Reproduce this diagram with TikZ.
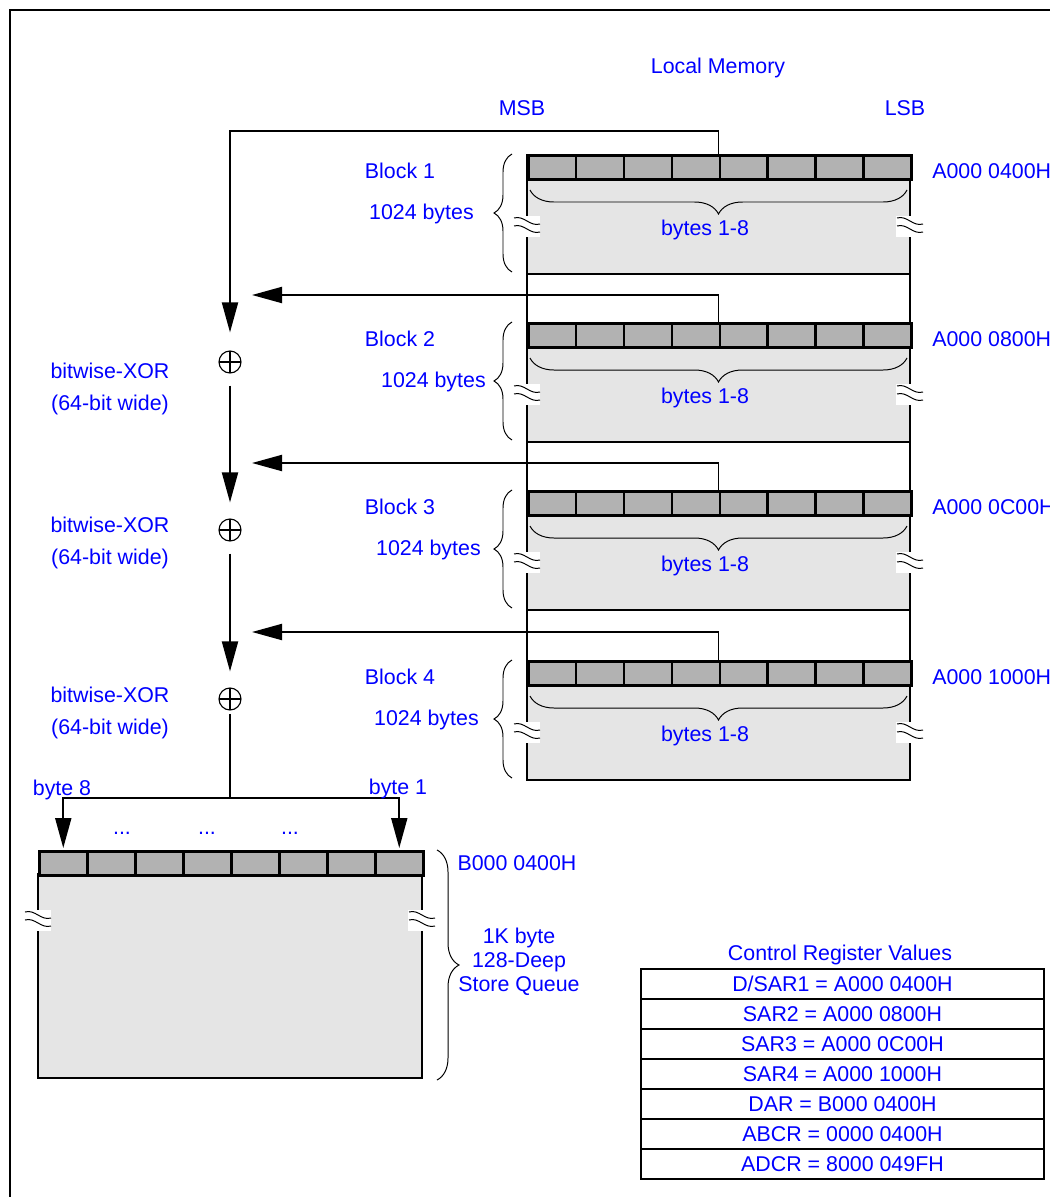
\documentclass[tikz,border=0pt]{standalone}
\usepackage{fontspec}
\setmainfont{Liberation Sans}
\usetikzlibrary{arrows.meta,positioning,calc,decorations.pathreplacing}
\definecolor{LabelBlue}{HTML}{0000FF}
\definecolor{CellGray}{HTML}{B2B2B2}
\definecolor{BodyGray}{HTML}{E5E5E5}
\tikzset{
  lbl/.style={text=LabelBlue, font=\fontsize{15.2}{17}\selectfont, inner sep=0pt},
  cell/.style={draw=black, fill=CellGray, line width=1.8pt, minimum width=1.197cm, minimum height=0.6cm, inner sep=0pt, anchor=north west},
  body/.style={draw=black, fill=BodyGray, line width=1.8pt},
  xor/.style={circle, draw, line width=0.8pt, minimum size=0.55cm, inner sep=0pt,
    path picture={\draw[line width=0.8pt] (path picture bounding box.north) -- (path picture bounding box.south)
      (path picture bounding box.west) -- (path picture bounding box.east);}},
  conn/.style={line width=1.4pt, draw=black},
  arr/.style={conn, -{Triangle[length=0.75cm,width=0.4cm]}},
  brc/.style={decorate, decoration={brace, amplitude=#1}, line width=0.7pt},
  brc/.default=0.45cm,
  regbox/.style={draw, line width=1.8pt, minimum width=10.075cm, minimum height=0.75cm, inner sep=0pt, text=LabelBlue, font=\fontsize{15.2}{17}\selectfont},
  brk/.pic={
    \fill[white] (-14,-10) rectangle (13,11);
    \draw[line width=0.7pt] (-13,-8) .. controls (-3,-11) and (3,1) .. (13,-2);
    \draw[line width=0.7pt] (-13,0) .. controls (-3,-3) and (3,9) .. (13,6);
  }
}
\begin{document}
\begin{tikzpicture}[x=0.025cm,y=-0.025cm]
\useasboundingbox (0,0) rectangle (1050,1197);
\draw[line width=1.5pt] (1060,10) -- (10,10) -- (10,1210);
\node[lbl] (lm) at (718,68) {Local Memory};
\node[lbl] (msb) at (522,108) {MSB};
\node[lbl] (lsb) at (905,108) {LSB};
\draw[line width=1.8pt] (527,154) -- (527,780) (910,154) -- (910,780);
\foreach \b/\y/\addr/\kx in {1/154/0400/474,2/322/0800/486,3/490/0C00/481,4/660/1000/479}{
  \draw[body] (527,\y+24) rectangle (910,\y+120);
  \foreach \i in {0,...,7}
    \node[cell] (h\b\i) at (527+47.875*\i,\y) {};
  \pic at (527,\y+72) {brk};
  \pic at (910,\y+72) {brk};
  \draw[brc=0.6cm] (907,\y+36) -- (530,\y+36);
  \draw[brc] (512,\y+118) -- (512,\y);
  \node[lbl] (blk\b) at (400,\y+17) {Block \b};
  \node[lbl, anchor=east] (sz\b) at (\kx,\y+60) {1024 bytes};
  \node[lbl] (by\b) at (705,\y+76) {bytes 1-8};
  \node[lbl, anchor=west] (ad\b) at (932,\y+17) {A000 \addr H};
}
\node[xor] (xor1) at (230,362) {};
\node[xor] (xor2) at (230,530) {};
\node[xor] (xor3) at (230,699) {};
\foreach \n/\yy in {1/389,2/543,3/713}
  \node[lbl, align=center, font=\fontsize{15.2}{22.8}\selectfont] (xl\n) at (110,\yy) {bitwise-XOR\\(64-bit wide)};
\coordinate (in2) at (252,295);
\coordinate (in3) at (252,463);
\coordinate (in4) at (252,632);
\draw[arr, shorten >=0.45cm] (h14.north west) -- ++(0,-23) -| (xor1);
\foreach \b/\h in {2/27,3/27,4/28}
  \draw[arr] (h\b4.north west) -- ++(0,-\h) -- (in\b);
\draw[arr, shorten <=0.3cm, shorten >=0.4cm] (xor1) -- (xor2);
\draw[arr, shorten <=0.3cm, shorten >=0.4cm] (xor2) -- (xor3);
\draw[body] (38,874) rectangle (422,1078);
\foreach \i in {0,...,7}
  \node[cell, minimum width=1.2cm] (q\i) at (38+48*\i,850) {};
\pic at (38,920) {brk};
\pic at (422,920) {brk};
\draw[brc=0.55cm] (437,850) -- (437,1080);
\node[lbl] (qa) at (517,863) {B000 0400H};
\node[lbl, align=center] (qs) at (519,962) {1K byte\\128-Deep\\Store Queue};
\coordinate (split) at (230,798);
\draw[conn, shorten <=0.08cm] (xor3) -- (split);
\draw[arr, shorten >=0.05cm] (split) -| (q0);
\draw[arr, shorten >=0.05cm] (split) -| (q7);
\node[lbl, anchor=base] (b8) at (62,795) {byte 8};
\node[lbl, anchor=base] (b1) at (398,794) {byte 1};
\foreach \x [count=\k] in {122,207,290}
  \node[lbl] (dots\k) at (\x,833) {...};
\node[lbl] (crt) at (840,955) {Control Register Values};
\foreach \t [count=\r] in {D/SAR1 = A000 0400H, SAR2 = A000 0800H, SAR3 = A000 0C00H, SAR4 = A000 1000H, DAR = B000 0400H, ABCR = 0000 0400H, ADCR = 8000 049FH}
  \node[regbox] (reg\r) at (842.5,954+30*\r) {\t};
\end{tikzpicture}
\end{document}
